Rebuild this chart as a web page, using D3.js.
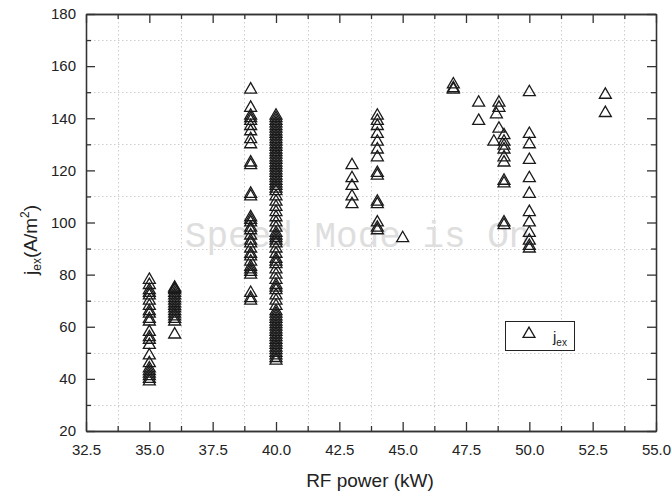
<!DOCTYPE html>
<html>
<head>
<meta charset="utf-8">
<script src="https://cdn.jsdelivr.net/npm/d3@7"></script>
<style>
  html, body { margin: 0; padding: 0; background: #fff; }
  svg { display: block; font-family: "Liberation Sans", Arial, sans-serif; }
</style>
</head>
<body>
<svg id="chart" width="672" height="496"></svg>
<script>
// ---------- data ----------
const xMajorTicks = [32.5, 35.0, 37.5, 40.0, 42.5, 45.0, 47.5, 50.0, 52.5, 55.0];
const yMajorTicks = [20, 40, 60, 80, 100, 120, 140, 160, 180];
const xTitle = "RF power (kW)";
const seriesName = "j";
const seriesSub = "ex";
const watermark = "Speed Mode is On";

const jex35 = [78, 76, 74, 73, 72, 70, 68, 66, 65, 63, 62, 58, 56, 55, 53, 49, 46, 44, 43, 42, 41, 40, 39];
const jex36 = [75, 74.5, 74, 73, 72, 71, 70, 69, 68, 67, 66, 65, 64, 63, 62, 57];
const jex39 = [151, 144, 141, 140, 139, 137, 135, 132, 130, 123, 122, 111, 110, 102, 101, 100, 98, 97, 95, 93, 92, 90, 88, 87, 85, 83, 82, 81, 80, 73, 71, 70];
const jex40 = [141, 140, 139, 138, 137, 136, 135, 134, 133, 132, 131, 130, 129, 128, 127, 126, 125, 124, 123, 122, 121, 120, 119, 118, 117, 116, 115, 114, 113, 112, 110, 108, 106, 104, 102, 100, 98, 96, 95, 94, 93, 92, 90, 88, 86, 85, 84, 82, 80, 78, 76, 75, 74, 72, 70, 68, 66, 65, 64, 63, 62, 61, 60, 59, 58, 57, 56, 55, 54, 53, 52, 51, 50, 49, 48, 47];
const jex43 = [122, 117, 114, 110, 107];
const jex44 = [141, 139, 137, 134, 131, 128, 125, 119, 118, 108, 107, 100, 98, 97];
const jex45 = [94];
const jex47 = [153, 151.5, 151];
const jex48 = [146, 139];
const jex486 = [131];
const jex487 = [141.5];
const jex488 = [146, 144, 136];
const jex49 = [133.5, 131, 129.5, 128, 125, 123, 116, 115, 100, 99];
const jex50 = [150, 134, 130, 124, 117, 111, 104, 100, 96, 93, 91, 90];
const jex53 = [149, 142];

const powers = [35, 36, 39, 40, 43, 44, 45, 47, 48, 48.6, 48.7, 48.8, 49, 50, 53];
const jexByPower = [jex35, jex36, jex39, jex40, jex43, jex44, jex45, jex47, jex48, jex486, jex487, jex488, jex49, jex50, jex53];

const points = [];
powers.forEach((p, i) => jexByPower[i].forEach(v => points.push({ x: p, y: v })));

// ---------- layout ----------
const svg = d3.select("#chart");
const L = 86, R = 656, T = 14, B = 431;
const x = d3.scaleLinear().domain([32.5, 55]).range([L, R]);
const y = d3.scaleLinear().domain([20, 180]).range([B, T]);

const xMinor = xMajorTicks.slice(0, -1).map(v => v + 1.25);
const yMinor = yMajorTicks.slice(0, -1).map(v => v + 10);

// grid (dotted, at minor positions)
const grid = svg.append("g").attr("stroke", "#cccccc").attr("stroke-width", 1).attr("stroke-dasharray", "1.5,2.5");
grid.selectAll("line.gx").data(xMinor).join("line")
  .attr("x1", d => Math.round(x(d)) + 0.5).attr("x2", d => Math.round(x(d)) + 0.5)
  .attr("y1", T).attr("y2", B);
grid.selectAll("line.gy").data(yMinor).join("line")
  .attr("y1", d => Math.round(y(d)) + 0.5).attr("y2", d => Math.round(y(d)) + 0.5)
  .attr("x1", L).attr("x2", R);

// watermark
svg.append("text")
  .attr("x", x(36.4)).attr("y", y(90.5))
  .attr("font-family", "'Liberation Mono', 'DejaVu Sans Mono', monospace")
  .attr("font-size", 36)
  .attr("fill", "#dedede")
  .text(watermark);

// axes
function styleAxis(g) {
  g.selectAll("path.domain").attr("stroke", "#333").attr("stroke-width", 1.3);
  g.selectAll(".tick line").attr("stroke", "#333").attr("stroke-width", 1.3);
  g.selectAll(".tick text").attr("fill", "#222").attr("font-size", 15)
    .attr("font-family", "'Liberation Sans', Arial, sans-serif");
}
const fmtX = d3.format(".1f");

svg.append("g").attr("transform", `translate(0,${B})`)
  .call(d3.axisBottom(x).tickValues(xMajorTicks).tickFormat(fmtX).tickSize(-9).tickSizeOuter(0).tickPadding(13))
  .call(styleAxis);
svg.append("g").attr("transform", `translate(0,${B})`)
  .call(d3.axisBottom(x).tickValues(xMinor).tickFormat("").tickSize(-5).tickSizeOuter(0))
  .call(styleAxis);
svg.append("g").attr("transform", `translate(0,${T})`)
  .call(d3.axisTop(x).tickValues(xMajorTicks).tickFormat("").tickSize(-9).tickSizeOuter(0))
  .call(styleAxis);
svg.append("g").attr("transform", `translate(0,${T})`)
  .call(d3.axisTop(x).tickValues(xMinor).tickFormat("").tickSize(-5).tickSizeOuter(0))
  .call(styleAxis);
svg.append("g").attr("transform", `translate(${L},0)`)
  .call(d3.axisLeft(y).tickValues(yMajorTicks).tickFormat(d3.format("d")).tickSize(-9).tickSizeOuter(0).tickPadding(10))
  .call(styleAxis);
svg.append("g").attr("transform", `translate(${L},0)`)
  .call(d3.axisLeft(y).tickValues(yMinor).tickFormat("").tickSize(-5).tickSizeOuter(0))
  .call(styleAxis);
svg.append("g").attr("transform", `translate(${R},0)`)
  .call(d3.axisRight(y).tickValues(yMajorTicks).tickFormat("").tickSize(-9).tickSizeOuter(0))
  .call(styleAxis);
svg.append("g").attr("transform", `translate(${R},0)`)
  .call(d3.axisRight(y).tickValues(yMinor).tickFormat("").tickSize(-5).tickSizeOuter(0))
  .call(styleAxis);

// points
const tri = d3.symbol().type(d3.symbolTriangle).size(62);
svg.append("g").selectAll("path").data(points).join("path")
  .attr("transform", d => `translate(${x(d.x)},${y(d.y)})`)
  .attr("d", tri)
  .attr("fill", "none")
  .attr("stroke", "#1a1a1a")
  .attr("stroke-width", 1.3);

// axis titles
svg.append("text")
  .attr("x", (L + R) / 2 - 1).attr("y", 487)
  .attr("text-anchor", "middle").attr("font-size", 19).attr("fill", "#222")
  .text(xTitle);

const yt = svg.append("text")
  .attr("transform", `translate(37,240) rotate(-90)`)
  .attr("text-anchor", "middle").attr("font-size", 19).attr("fill", "#222");
yt.append("tspan").text(seriesName);
yt.append("tspan").attr("font-size", 12).attr("dy", 4).text(seriesSub);
yt.append("tspan").attr("dy", -4).text("(A/m");
yt.append("tspan").attr("font-size", 12).attr("dy", -8).text("2");
yt.append("tspan").attr("dy", 8).text(")");

// legend
const lg = svg.append("g");
lg.append("rect").attr("x", 505.5).attr("y", 321.5).attr("width", 69).attr("height", 29)
  .attr("fill", "#fff").attr("stroke", "#222").attr("stroke-width", 1);
lg.append("path").attr("transform", "translate(529,334)").attr("d", tri)
  .attr("fill", "none").attr("stroke", "#1a1a1a").attr("stroke-width", 1.3);
const lt = lg.append("text").attr("x", 553).attr("y", 342).attr("font-size", 15).attr("fill", "#222");
lt.append("tspan").text(seriesName);
lt.append("tspan").attr("font-size", 10).attr("dy", 4).text(seriesSub);
</script>
</body>
</html>
